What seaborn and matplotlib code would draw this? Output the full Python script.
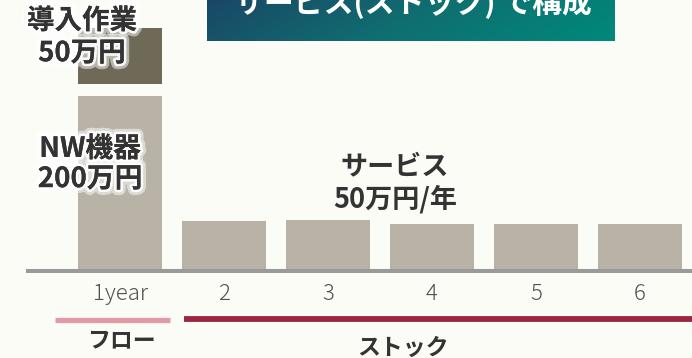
import numpy as np
import pandas as pd
import matplotlib
matplotlib.use("Agg")
import matplotlib.pyplot as plt
import matplotlib.patheffects as pe
from matplotlib.colors import LinearSegmentedColormap
import seaborn as sns

# ---- data (万円) ----
years = ["1year", "2", "3", "4", "5", "6"]
totals_light = [200, 57, 58, 54, 54, 54]   # NW機器 (year 1) + サービス (years 2-6)
setup_value = 64                            # 導入作業 segment on year 1
setup_year = ["1year"]

title = "サービス(ストック) で構成"
label_setup = "導入作業\n50万円"
label_nw = "NW機器\n200万円"
label_service = "サービス\n50万円/年"
label_flow = "フロー"
label_stock = "ストック"

BG = "#fcfcf7"
LIGHT = "#b9b2a6"
DARK = "#6f6a58"
GAP = 14  # visual gap between stacked segments

sns.set_theme(style="white")
plt.rcParams["font.family"] = ["Noto Sans CJK JP", "DejaVu Sans"]

W, H = 692, 358
fig = plt.figure(figsize=(W / 100, H / 100), dpi=100, facecolor=BG)
ax = fig.add_axes([0, 0, 1, 1])
ax.set_facecolor(BG)

df = pd.DataFrame({"year": years, "value": totals_light})
top_df = pd.DataFrame({"year": setup_year,
                       "value": [totals_light[0] + GAP + setup_value]})
cover_df = pd.DataFrame({"year": setup_year, "value": [totals_light[0] + GAP]})

sns.barplot(data=top_df, x="year", y="value", order=years, color=DARK,
            saturation=1, width=0.8, linewidth=0, ax=ax, zorder=1)
sns.barplot(data=cover_df, x="year", y="value", order=years, color=BG,
            saturation=1, width=0.8, linewidth=0, ax=ax, zorder=1.1)
sns.barplot(data=df, x="year", y="value", order=years, color=LIGHT,
            saturation=1, width=0.8, linewidth=0, ax=ax, zorder=1.2)

pxu = 104.0      # px per category
pyu = 0.875      # px per 万円
base_px = 271
ax.set_xlim(-120 / pxu, (W - 120) / pxu)
ax.set_ylim(-(H - base_px) / pyu, base_px / pyu)

for s in ["top", "left", "right"]:
    ax.spines[s].set_visible(False)
ax.spines["bottom"].set_position(("data", 0))
ax.spines["bottom"].set_color("#9a9a9a")
ax.spines["bottom"].set_linewidth(2.9)
ax.spines["bottom"].set_bounds((28 - 120) / pxu, (W - 120) / pxu)
ax.spines["bottom"].set_zorder(3)
ax.set_yticks([])
ax.set_xlabel("")
ax.set_ylabel("")
ax.tick_params(axis="x", length=0, pad=8.5, labelsize=16, labelcolor="#505050")
for t in ax.get_xticklabels():
    t.set_fontweight("light")

halo = [pe.withStroke(linewidth=8, foreground="white", alpha=0.5),
        pe.withStroke(linewidth=4, foreground="white", alpha=0.9), pe.Normal()]

def dx(px):
    return (px - 120) / pxu

def dy(py):
    return (base_px - py) / pyu

ax.text(dx(82), dy(37), label_setup, ha="center", va="center", fontsize=19.8,
        fontweight="bold", color="#333333", linespacing=1.2, path_effects=halo, zorder=5)
ax.text(dx(90), dy(164), label_nw, ha="center", va="center", fontsize=20,
        fontweight="bold", color="#333333", linespacing=1.1, path_effects=halo, zorder=5)
ax.text(dx(395), dy(183), label_service, ha="center", va="center", fontsize=19.5,
        fontweight="bold", color="#333333", linespacing=1.2, zorder=5)

ax.plot([dx(55), dx(170)], [dy(319.5)] * 2, color="#e29aa5", lw=3.8,
        solid_capstyle="butt")
ax.plot([dx(184), dx(W)], [dy(319)] * 2, color="#9b2840", lw=4.2,
        solid_capstyle="butt")
ax.text(dx(121), dy(341), label_flow, ha="center", va="center", fontsize=16.5,
        fontweight="bold", color="#333333")
ax.text(dx(403), dy(348), label_stock, ha="center", va="center", fontsize=16.5,
        fontweight="bold", color="#333333")

# title banner with gradient
tax = fig.add_axes([207 / W, 1 - 41 / H, 408 / W, 41 / H])
cmap = LinearSegmentedColormap.from_list("g", ["#1a4766", "#0f6f70", "#00897b"])
gx, gy = np.meshgrid(np.linspace(0, 1, 200), np.linspace(0, 1, 40))
grad = np.clip(gx * 0.85 + (1 - gy) * 0.15, 0, 1)
tax.imshow(grad, cmap=cmap, aspect="auto", extent=[0, 1, 0, 1], origin="lower")
tax.set_axis_off()
fig.text(413 / W, 1 - 3 / H, title, ha="center", va="center", fontsize=21.5,
         fontweight="bold", color="white")

fig.savefig("out.png", dpi=100, facecolor=BG)
